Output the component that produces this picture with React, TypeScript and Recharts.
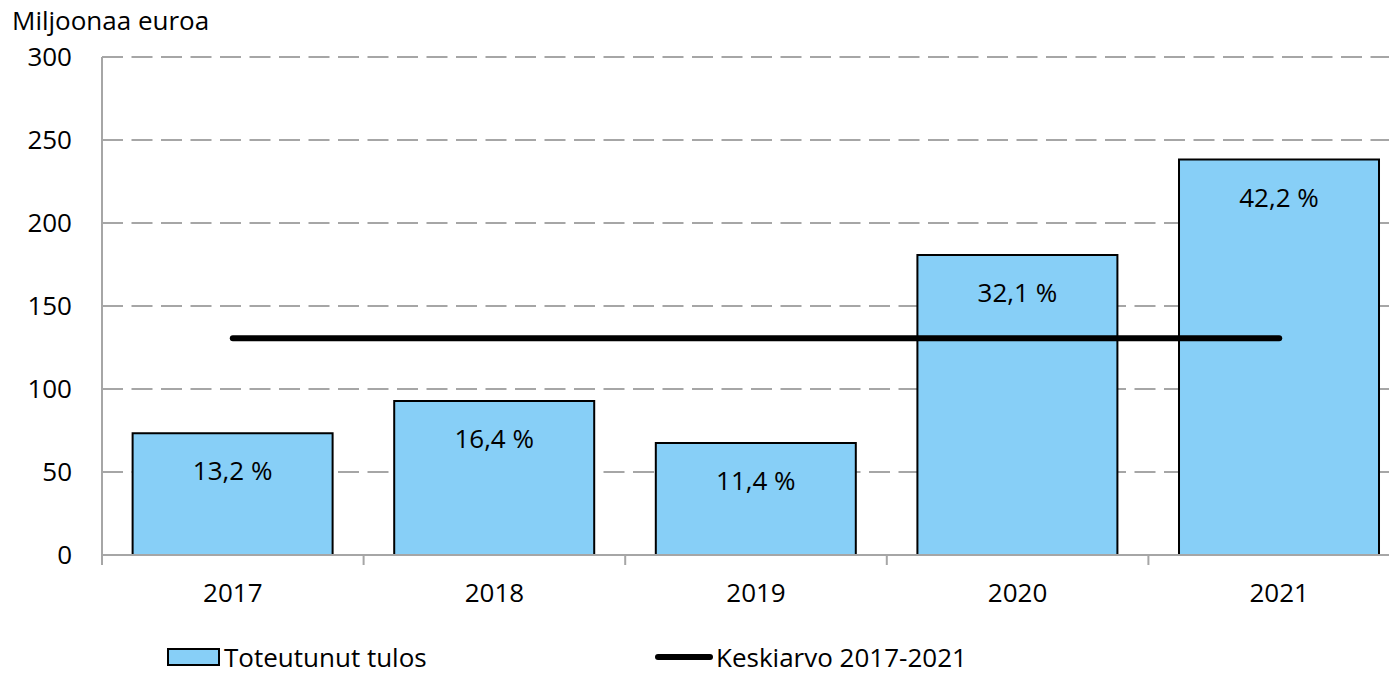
import { ComposedChart, Bar, Line, XAxis, YAxis, CartesianGrid, LabelList } from 'recharts'

const years = ['2017', '2018', '2019', '2020', '2021']
const result = [73.3, 92.8, 67.5, 180.7, 238.2]
const shares = ['13,2 %', '16,4 %', '11,4 %', '32,1 %', '42,2 %']
const average = [130.6, 130.6, 130.6, 130.6, 130.6]
const yTicks = [0, 50, 100, 150, 200, 250, 300]
const seriesNames = ['Toteutunut tulos', 'Keskiarvo 2017-2021']

const data = years.map((y, i) => ({ year: y, result: result[i], share: shares[i], avg: average[i] }))

const FONT = '"Open Sans", "Noto Sans", sans-serif'
const FS = 26
const GRID = '#a6a6a6'
const BLUE = '#87cff7'

function XTick(props: any) {
  const { x, y, payload, index, width, visibleTicksCount } = props
  const half = width / visibleTicksCount / 2
  return (
    <g>
      <line x1={x - half} x2={x - half} y1={y - 10} y2={y} stroke={GRID} strokeWidth={2} />
      {index === visibleTicksCount - 1 && (
        <line x1={x + half} x2={x + half} y1={y - 10} y2={y} stroke={GRID} strokeWidth={2} />
      )}
      <text x={x} y={y + 37} textAnchor="middle" fontSize={FS} fontFamily={FONT} fill="#000">
        {payload.value}
      </text>
    </g>
  )
}

function ShareLabel(props: any) {
  const { x, y, width, value } = props
  return (
    <text x={x + width / 2} y={y + 37} textAnchor="middle" dominantBaseline="central"
      fontSize={FS} fontFamily={FONT} fill="#000">
      {value}
    </text>
  )
}

const legendRow = {
  position: 'absolute' as const, top: 644, height: 26, display: 'flex',
  alignItems: 'center', fontSize: FS, lineHeight: '26px',
}

export default function App() {
  return (
    <div style={{
      position: 'fixed', left: 0, top: 0, width: 1389, height: 675,
      overflow: 'hidden', background: '#fff', fontFamily: FONT,
    }}>
      <div style={{ position: 'absolute', left: 12, top: 6, fontSize: FS, lineHeight: '28px' }}>
        Miljoonaa euroa
      </div>
      <ComposedChart width={1410} height={675} data={data} barCategoryGap="11.7%"
        margin={{ top: 57, right: 0, bottom: 60, left: 0 }}>
        <CartesianGrid vertical={false} stroke={GRID} strokeWidth={2} strokeDasharray="21 8.5" />
        <XAxis dataKey="year" height={60} axisLine={{ stroke: GRID, strokeWidth: 2 }}
          tickLine={false} tickSize={10} tickMargin={0} interval={0} tick={<XTick />} />
        <YAxis width={102} domain={[0, 300]} ticks={yTicks} interval={0}
          axisLine={{ stroke: GRID, strokeWidth: 2 }} tickLine={false} tickSize={0} tickMargin={30}
          tick={{ fill: '#000', fontSize: FS, fontFamily: FONT }} />
        <Bar dataKey="result" fill={BLUE} stroke="#000" strokeWidth={2} isAnimationActive={false}>
          <LabelList dataKey="share" content={<ShareLabel />} />
        </Bar>
        <Line dataKey="avg" stroke="#000" strokeWidth={6} strokeLinecap="round"
          dot={false} activeDot={false} isAnimationActive={false} />
      </ComposedChart>
      <div style={{ ...legendRow, left: 167 }}>
        <span style={{ width: 49, height: 14, background: BLUE, border: '2px solid #000', marginRight: 4 }} />
        <span>{seriesNames[0]}</span>
      </div>
      <div style={{ ...legendRow, left: 655 }}>
        <span style={{ width: 58, height: 6, background: '#000', borderRadius: 3, marginRight: 3 }} />
        <span>{seriesNames[1]}</span>
      </div>
    </div>
  )
}
